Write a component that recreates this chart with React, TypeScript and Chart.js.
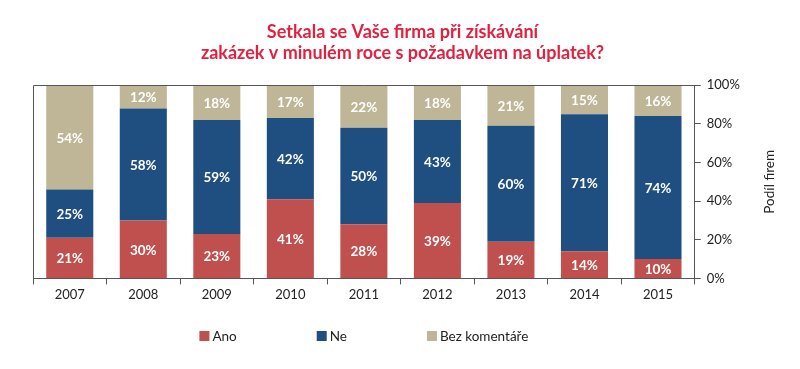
import React, { useEffect, useRef } from "react";
import { Chart, registerables } from "chart.js";

Chart.register(...registerables);

const years = ["2007", "2008", "2009", "2010", "2011", "2012", "2013", "2014", "2015"];
const ano = [21, 30, 23, 41, 28, 39, 19, 14, 10];
const ne = [25, 58, 59, 42, 50, 43, 60, 71, 74];
const bez = [54, 12, 18, 17, 22, 18, 21, 15, 16];
const yTicks = [0, 20, 40, 60, 80, 100];
const seriesNames = ["Ano", "Ne", "Bez komentáře"];
const colors = ["#C0504D", "#1F4E80", "#BEB697"];
const titleLines = ["Setkala se Vaše firma při získávání", "zakázek v minulém roce s požadavkem na úplatek?"];
const axisTitle = "Podíl firem";

const FONT = "Lato, 'Open Sans', sans-serif";

const framePlugin = {
  id: "frame",
  afterDraw(chart: any) {
    const { ctx, chartArea } = chart;
    ctx.save();
    ctx.strokeStyle = "#555";
    ctx.lineWidth = 1;
    ctx.beginPath();
    ctx.moveTo(Math.round(chartArea.left) + 0.5, Math.round(chartArea.bottom));
    ctx.lineTo(Math.round(chartArea.left) + 0.5, Math.round(chartArea.top) + 0.5);
    ctx.lineTo(Math.round(chartArea.right), Math.round(chartArea.top) + 0.5);
    ctx.stroke();
    ctx.restore();
  },
};

const labelPlugin = {
  id: "segLabels",
  afterDatasetsDraw(chart: any) {
    const { ctx } = chart;
    ctx.save();
    ctx.font = `bold 13.5px ${FONT}`;
    ctx.fillStyle = "#ffffff";
    ctx.textAlign = "center";
    ctx.textBaseline = "middle";
    chart.data.datasets.forEach((ds: any, di: number) => {
      const meta = chart.getDatasetMeta(di);
      meta.data.forEach((bar: any, i: number) => {
        const v = ds.data[i];
        const cy = (bar.y + bar.base) / 2;
        ctx.fillText(`${v}%`, bar.x, cy + 1);
      });
    });
    ctx.restore();
  },
};

const legendPlugin = {
  id: "customLegend",
  afterDraw(chart: any) {
    const { ctx, chartArea } = chart;
    ctx.save();
    ctx.font = `13.5px ${FONT}`;
    ctx.textBaseline = "middle";
    const box = 10;
    const gapText = 3;
    const gapItem = 80;
    const widths = seriesNames.map((n) => box + gapText + ctx.measureText(n).width);
    const total = widths.reduce((a, b) => a + b, 0) + gapItem * (seriesNames.length - 1);
    let x = (chartArea.left + chartArea.right) / 2 - total / 2;
    const y = 336;
    seriesNames.forEach((n, i) => {
      ctx.fillStyle = colors[i];
      ctx.fillRect(x, y - box / 2, box, box);
      ctx.fillStyle = "#222";
      ctx.textAlign = "left";
      ctx.fillText(n, x + box + gapText, y + 1);
      x += widths[i] + gapItem;
    });
    ctx.restore();
  },
};

const axisTitlePlugin = {
  id: "axisTitleDraw",
  afterDraw(chart: any) {
    const { ctx, chartArea } = chart;
    const scale = chart.scales.y;
    ctx.save();
    ctx.font = `13.5px ${FONT}`;
    ctx.fillStyle = "#222";
    ctx.textAlign = "center";
    ctx.textBaseline = "middle";
    ctx.translate(scale.right - 2, (chartArea.top + chartArea.bottom) / 2);
    ctx.rotate(-Math.PI / 2);
    ctx.fillText(axisTitle, 0, 0);
    ctx.restore();
  },
};

export default function App() {
  const ref = useRef<HTMLCanvasElement>(null);
  useEffect(() => {
    if (!ref.current) return;
    const data = [ano, ne, bez];
    const chart = new Chart(ref.current, {
      type: "bar",
      data: {
        labels: years,
        datasets: seriesNames.map((n, i) => ({
          label: n,
          data: data[i],
          backgroundColor: colors[i],
          barPercentage: 0.64,
          categoryPercentage: 1,
        })),
      },
      options: {
        animation: false,
        responsive: false,
        layout: { padding: { left: 33, right: 28, top: 0, bottom: 63 } },
        plugins: {
          legend: { display: false },
          tooltip: { enabled: false },
          title: {
            display: true,
            text: titleLines,
            color: "#E2213F",
            font: { family: FONT, size: 18, weight: "bold" },
            lineHeight: 1.2,
            padding: { top: 21, bottom: 21 },
          },
        },
        scales: {
          x: {
            stacked: true,
            grid: { display: true, drawOnChartArea: false, drawTicks: true, tickLength: 6, color: "#555" },
            border: { display: true, color: "#555" },
            ticks: { color: "#222", font: { family: FONT, size: 13 }, padding: 3 },
          },
          y: {
            stacked: true,
            position: "right",
            min: 0,
            max: 100,
            afterBuildTicks(scale: any) {
              scale.ticks = yTicks.map((v) => ({ value: v }));
            },
            grid: { display: true, drawOnChartArea: false, drawTicks: true, tickLength: 6, color: "#555" },
            border: { display: true, color: "#555" },
            ticks: {
              color: "#222",
              font: { family: FONT, size: 13 },
              padding: 6,
              callback: (v: any) => `${v}%`,
            },
            title: {
              display: true,
              text: axisTitle,
              color: "transparent",
              font: { family: FONT, size: 13.5 },
              padding: { top: 6, bottom: 4 },
            },
          },
        },
      },
      plugins: [framePlugin, labelPlugin, legendPlugin, axisTitlePlugin],
    } as any);
    return () => chart.destroy();
  }, []);
  return (
    <div style={{ position: "absolute", left: 0, top: 0, width: 800, height: 369, background: "#fff" }}>
      <canvas ref={ref} width={800} height={369} style={{ width: 800, height: 369, display: "block" }} />
    </div>
  );
}
